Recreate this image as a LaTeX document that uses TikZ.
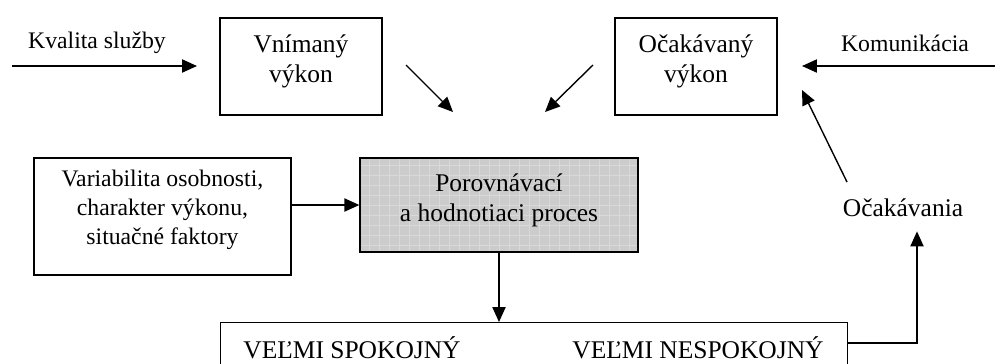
\documentclass[tikz,border=0pt]{standalone}
\usepackage{fontspec}
\setmainfont{Liberation Serif}
\usetikzlibrary{arrows.meta}

\tikzset{
  box/.style={draw,thick,align=center,inner sep=0pt},
  lbl/.style={align=center,inner sep=0pt},
  arr/.style={thick,-{Triangle[length=8.5pt,width=7.5pt]}},
  txt/.style={font=\fontsize{13.5}{16.5}\selectfont},
  big/.style={font=\fontsize{14.5}{17}\selectfont},
}

\begin{document}
\begin{tikzpicture}[x=0.02cm,y=-0.02cm]
\useasboundingbox (0,0) rectangle (997,363);

%upper boxes
\node[box,minimum width=3.24cm,minimum height=1.94cm] (vniman) at (301,66.5) {};
\node[lbl,big] (vnimantxt) at (301,61) {Vnímaný\\výkon};
\node[box,minimum width=3.24cm,minimum height=1.94cm] (ocak) at (696,66.5) {};
\node[lbl,big] (ocaktxt) at (696,61) {Očakávaný\\výkon};

%middle row
\node[box,minimum width=5.14cm,minimum height=2.34cm] (var) at (162.5,216.5) {};
\node[lbl,txt] (vartxt) at (162.5,210) {Variabilita osobnosti,\\charakter výkonu,\\situačné faktory};
\node[box,fill=gray!40,minimum width=5.56cm,minimum height=1.88cm,
  path picture={\draw[gray!30,very thin,step=0.2cm] (path picture bounding box.south west) grid (path picture bounding box.north east);}]
  (porov) at (499,205) {};
\draw[thick] (porov.south west) rectangle (porov.north east);
\node[lbl,big] (porovtxt) at (499,200) {Porovnávací\\a hodnotiaci proces};

%result box (cut at bottom)
\node[box,minimum width=12.54cm,minimum height=1.5cm,anchor=north west] (vysl) at (220,322) {};
\node[lbl,big] (spok) at (352,348) {VEĽMI SPOKOJNÝ};
\node[lbl,big] (nespok) at (698,348) {VEĽMI NESPOKOJNÝ};

%labels
\node[lbl,txt] (kval) at (97,43) {Kvalita služby};
\node[lbl,txt] (komun) at (905,43) {Komunikácia};
\node[lbl,big] (ocakav) at (903,208) {Očakávania};

%free ends
\coordinate (kvalin) at (12,66);
\coordinate (kvalout) at (197,66);
\coordinate (komunin) at (995,66);
\coordinate (komunout) at (802,66);
\coordinate (vnimto) at (453,112);
\coordinate (vnimfrom) at (406,65);
\coordinate (ocakto) at (545,112);
\coordinate (ocakfrom) at (593,65);
\coordinate (ocavfrom) at (847,182);
\coordinate (ocavto) at (802,90);
\coordinate (turn) at (917,343);

%connectors
\draw[arr] (kvalin) -- (kvalout);
\draw[arr] (komunin) -- (komunout);
\draw[arr] (vnimfrom) -- (vnimto);
\draw[arr] (ocakfrom) -- (ocakto);
\draw[arr] (ocavfrom) -- (ocavto);
\draw[arr] (var.east |- porov.west) -- (porov.west);
\draw[arr] (porov.south) -- (porov.south |- vysl.north);
\draw[arr] (vysl.east |- turn) -- (turn) -- ([yshift=-8pt]ocakav.south -| turn);

\end{tikzpicture}
\end{document}
